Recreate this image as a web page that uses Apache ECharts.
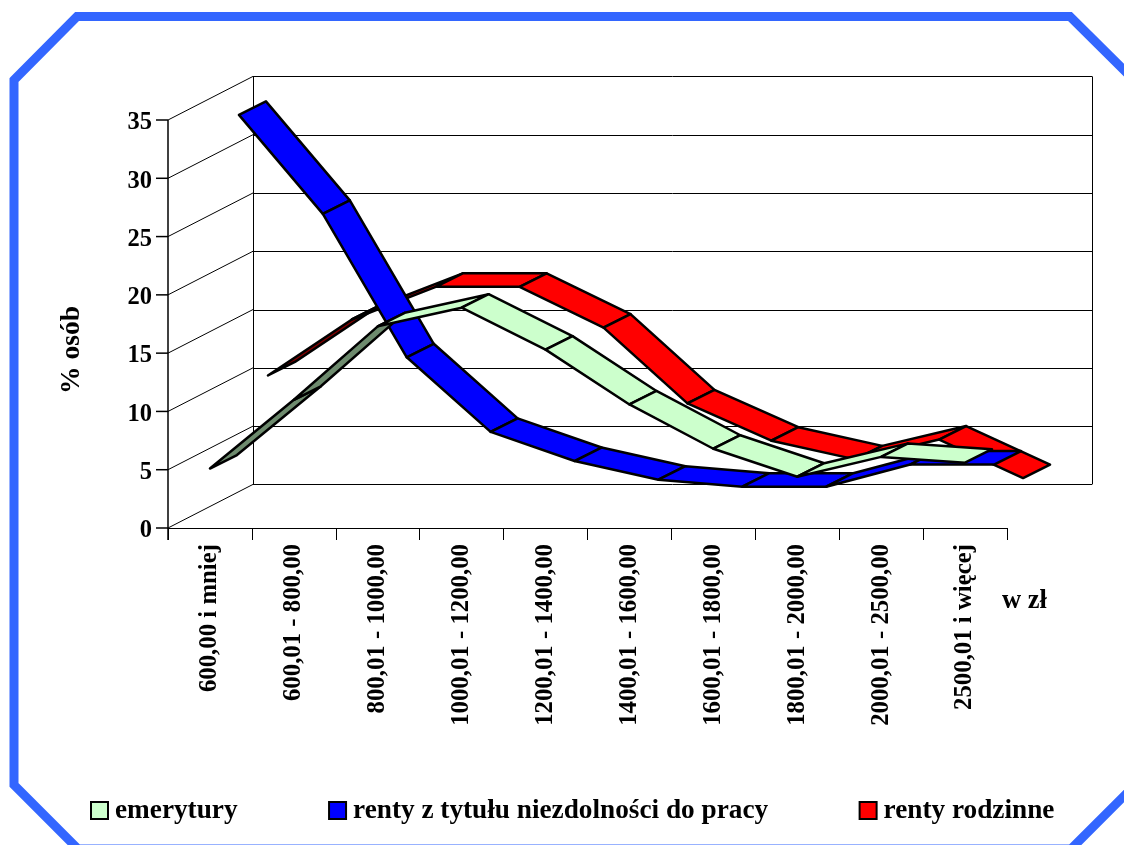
<!DOCTYPE html>
<html>
<head>
<meta charset="utf-8">
<title>% osób</title>
<style>
html, body { margin: 0; padding: 0; background: #fff; }
#chart { width: 1124px; height: 845px; }
</style>
</head>
<body>
<div id="chart"></div>
<script src="https://cdn.jsdelivr.net/npm/echarts@6/dist/echarts.min.js"></script>
<script>
// przedzialy i wartosci
var categories = ['600,00 i mniej', '600,01 - 800,00', '800,01 - 1000,00', '1000,01 - 1200,00', '1200,01 - 1400,00',
    '1400,01 - 1600,00', '1600,01 - 1800,00', '1800,01 - 2000,00', '2000,01 - 2500,00', '2500,01 i więcej'];
var emerytury = [5.1, 11.0, 17.3, 18.9, 15.3, 10.6, 6.8, 4.4, 6.1, 5.6];
var rentyNiezdolnosc = [34.2, 25.7, 13.4, 7.0, 4.5, 2.9, 2.3, 2.3, 4.2, 4.2];
var rentyRodzinne = [10.6, 15.4, 18.2, 18.2, 14.7, 8.2, 5.0, 3.4, 5.1, 1.8];
var yTicks = [0, 5, 10, 15, 20, 25, 30, 35];

var font = '"Liberation Serif", "Times New Roman", serif';

// glebokosc "3D"
var wallDx = 85, wallDy = -43.6;
var slotDx = 29, slotDy = -14.5;
var ribbonDx = 27, ribbonDy = -13.5;
var tickLen = 12;

var myChart = echarts.init(document.getElementById('chart'));

function crisp(v) {
    return Math.round(v) + 0.5;
}

function wallLine(x1, y1, x2, y2, width) {
    return {
        type: 'line',
        shape: { x1: x1, y1: y1, x2: x2, y2: y2 },
        style: { stroke: '#000', lineWidth: width || 1 }
    };
}

function renderWalls(params, api) {
    var rect = params.coordSys;
    var left = rect.x;
    var right = rect.x + rect.width;
    var children = [];
    var frontTop = api.coord([0, 35])[1];
    var frontBot = api.coord([0, 0])[1];
    yTicks.forEach(function (t) {
        var y = api.coord([0, t])[1];
        var by = crisp(y + wallDy);
        children.push(wallLine(left, y, left + wallDx, y + wallDy));
        children.push(wallLine(left + wallDx, by, right + wallDx, by));
    });
    children.push(wallLine(crisp(left + wallDx), frontTop + wallDy, crisp(left + wallDx), frontBot + wallDy));
    children.push(wallLine(crisp(right + wallDx), frontTop + wallDy, crisp(right + wallDx), frontBot + wallDy));
    // przednia os y i podzialka
    children.push(wallLine(left, frontTop, left, frontBot + tickLen, 1.5));
    yTicks.forEach(function (t) {
        var y = api.coord([0, t])[1];
        children.push(wallLine(left - tickLen, y, left, y, 1.5));
    });
    return { type: 'group', children: children };
}

// jeden odcinek wstegi miedzy kolejnymi kategoriami
function ribbon(values, slot, topColor, underColor) {
    return function (params, api) {
        var i = api.value(0);
        if (i >= values.length - 1) {
            return null;
        }
        var a = api.coord([i, values[i]]);
        var b = api.coord([i + 1, values[i + 1]]);
        var ox = slotDx * slot, oy = slotDy * slot;
        var x0 = a[0] + ox, y0 = a[1] + oy;
        var x1 = b[0] + ox, y1 = b[1] + oy;
        // ostro w gore = widac spod wstegi
        var under = (y1 - y0) / (x1 - x0) < ribbonDy / ribbonDx;
        return {
            type: 'polygon',
            shape: {
                points: [[x0, y0], [x1, y1], [x1 + ribbonDx, y1 + ribbonDy], [x0 + ribbonDx, y0 + ribbonDy]]
            },
            style: {
                fill: under ? underColor : topColor,
                stroke: '#000',
                lineWidth: 2.5,
                lineJoin: 'round'
            }
        };
    };
}

function toData(values) {
    return values.map(function (v, i) {
        return [i, v];
    });
}

var option = {
    animation: false,
    backgroundColor: '#fff',
    grid: { left: 168, right: 117, top: 120, bottom: 317 },
    legend: {
        data: ['emerytury', 'renty z tytułu niezdolności do pracy', 'renty rodzinne'],
        left: 85,
        top: 792,
        icon: 'rect',
        itemWidth: 17,
        itemHeight: 17,
        itemGap: 90.5,
        selectedMode: false,
        itemStyle: { borderColor: '#000', borderWidth: 2 },
        textStyle: { fontFamily: font, fontWeight: 'bold', fontSize: 27.25, color: '#000', padding: [0, 0, 0, 2] }
    },
    xAxis: {
        type: 'category',
        data: categories,
        axisLine: { show: true, onZero: false, lineStyle: { color: '#000', width: 1 } },
        axisTick: { show: true, length: tickLen, lineStyle: { color: '#000', width: 1 } },
        axisLabel: {
            interval: 0,
            rotate: 90,
            margin: 16,
            fontFamily: font,
            fontWeight: 'bold',
            fontSize: 24.8,
            color: '#000'
        }
    },
    yAxis: {
        type: 'value',
        min: 0,
        max: 35,
        interval: 5,
        name: '% osób',
        nameLocation: 'middle',
        nameRotate: 90,
        nameGap: 82,
        nameTextStyle: { fontFamily: font, fontWeight: 'bold', fontSize: 27.5, color: '#000', padding: [0, 52, 0, 0] },
        splitLine: { show: false },
        axisLine: { show: false },
        axisTick: { show: false },
        axisLabel: {
            margin: 16,
            formatter: '{a|{value}}',
            rich: {
                a: { fontFamily: font, fontWeight: 'bold', fontSize: 24.5, color: '#000', padding: [6, 0, 0, 0] }
            }
        }
    },
    graphic: [{
        type: 'polygon',
        silent: true,
        shape: {
            points: [[14, 80], [77, 16.5], [1070, 16.5], [1134, 80], [1134, 786], [1071, 849], [78, 849], [14, 785]]
        },
        style: { fill: 'transparent', stroke: '#3366ff', lineWidth: 9 }
    }, {
        type: 'text',
        left: 1002,
        top: 588,
        style: { text: 'w zł', fontFamily: font, fontWeight: 'bold', fontSize: 26.5, fill: '#000' }
    }],
    series: [{
        type: 'custom',
        silent: true,
        z: 20,
        data: [[0, 0]],
        renderItem: renderWalls
    }, {
        name: 'renty rodzinne',
        type: 'custom',
        z: 21,
        itemStyle: { color: '#ff0000' },
        data: toData(rentyRodzinne),
        renderItem: ribbon(rentyRodzinne, 2, '#ff0000', '#800000')
    }, {
        name: 'renty z tytułu niezdolności do pracy',
        type: 'custom',
        z: 22,
        itemStyle: { color: '#0000ff' },
        data: toData(rentyNiezdolnosc),
        renderItem: ribbon(rentyNiezdolnosc, 1, '#0000ff', '#000080')
    }, {
        name: 'emerytury',
        type: 'custom',
        z: 23,
        itemStyle: { color: '#ccffcc' },
        data: toData(emerytury),
        renderItem: ribbon(emerytury, 0, '#ccffcc', '#6e8b6e')
    }]
};
myChart.setOption(option);
</script>
</body>
</html>
